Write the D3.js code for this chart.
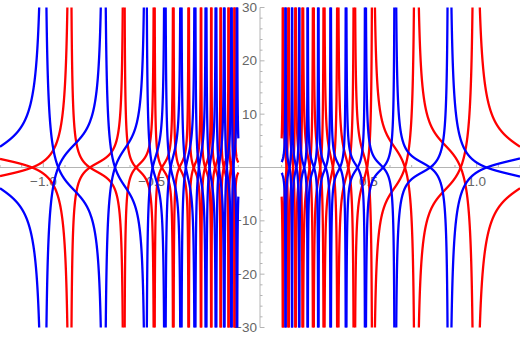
<!DOCTYPE html>
<html>
<head>
<meta charset="utf-8">
<script src="https://cdn.jsdelivr.net/npm/d3@7"></script>
<style>
  body { margin: 0; background: #fff; }
  svg { display: block; }
  text { font-family: "Liberation Sans", Arial, sans-serif; fill: #666; }
</style>
</head>
<body>
<svg width="520" height="337"></svg>
<script>
// asymptotes (poles) and zero crossings.
// the outermost pole of each list lies just outside the plotted x range.
const redPolesLeft = [-1.5, -0.8755, -0.6277, -0.4878, -0.400, -0.329, -0.272, -0.2248, -0.1814, -0.145, -0.1177];
const redZerosLeft = [-1.052, -0.785, -0.572, -0.453, -0.372, -0.306, -0.253, -0.207, -0.167, -0.134];
const redPolesRight = [0.106, 0.1315, 0.164, 0.197, 0.246, 0.295, 0.3586, 0.435, 0.52, 0.7186, 0.992, 1.42];
const redZerosRight = [0.1226, 0.1526, 0.1855, 0.229, 0.278, 0.3365, 0.408, 0.4935, 0.669, 0.926, 1.31];
const bluePolesLeft = [-1.42, -0.997, -0.72, -0.526, -0.4385, -0.3646, -0.300, -0.249, -0.203, -0.1648, -0.1315, -0.106];
const blueZerosLeft = [-1.31, -0.931, -0.669, -0.4955, -0.4126, -0.342, -0.282, -0.233, -0.1896, -0.1531, -0.1226];
const bluePolesRight = [0.118, 0.148, 0.181, 0.220, 0.269, 0.326, 0.397, 0.486, 0.623, 0.871, 1.45];
const blueZerosRight = [0.136, 0.168, 0.204, 0.249, 0.303, 0.369, 0.45, 0.568, 0.785, 1.046];
// strength of the branches next to each asymptote
const redAmp = [2.2, 4.6];   // left, right
const blueAmp = [4.6, 2.2];

const xTicksMajor = [-1.0, -0.5, 0.5, 1.0];
const yTicksMajor = [-30, -20, -10, 10, 20, 30];

const xMax = 1.2, xMin = 0.1;

const svg = d3.select('svg');
const width = +svg.attr('width');

const x = d3.scaleLinear().domain([-1.2, 1.2]).range([0, 520]);
const y = d3.scaleLinear().domain([-30, 30]).range([327.5, 7.5]);

svg.append('clipPath').attr('id', 'clip')
  .append('rect').attr('x', 0).attr('y', y(30)).attr('width', width).attr('height', y(-30) - y(30));

const clampY = v => Math.max(-200, Math.min(200, v));

// between two poles: r/(x-pL) + r/(x-pR) + shift, shifted so it crosses zero where read
function branchSegments(poles, zeros, amp, lo, hi) {
  const segs = [];
  const sample = (f, a, b, pL, pR) => d3.range(0, 701)
    .map(j => a + (b - a) * j / 700)
    .filter(xv => Math.min(Math.abs(xv - pL), Math.abs(pR - xv)) > 1e-6)
    .map(xv => [xv, clampY(f(xv))]);
  for (let i = 0; i < poles.length - 1; i++) {
    const pL = poles[i], pR = poles[i + 1], z = zeros[i];
    const r = amp * (pR - pL) / Math.PI;
    const shift = -(r / (z - pL) + r / (z - pR));
    const f = xv => r / (xv - pL) + r / (xv - pR) + shift;
    const a = Math.max(pL, lo), b = Math.min(pR, hi);
    if (a < b) segs.push(sample(f, a, b, pL, pR));
    // stretch past the innermost pole up to the gap at x = 0
    if (lo > 0 && i === 0 && lo < pL) segs.push(sample(f, lo, pL, pL, pR));
    if (hi < 0 && i === poles.length - 2 && hi > pR) segs.push(sample(f, pR, hi, pL, pR));
  }
  return segs;
}

const line = d3.line().x(d => x(d[0])).y(d => y(d[1]));

// axes
const axisColor = '#b4b4b4';
const gAx = svg.append('g');
gAx.append('line').attr('x1', 0).attr('x2', width).attr('y1', y(0)).attr('y2', y(0))
  .attr('stroke', axisColor).attr('stroke-width', 1);
gAx.append('line').attr('x1', x(0)).attr('x2', x(0)).attr('y1', y(30)).attr('y2', y(-30))
  .attr('stroke', axisColor).attr('stroke-width', 1);

const xMinor = d3.range(-12, 13).map(i => i / 10).filter(v => Math.abs(v) > 1e-9);
gAx.selectAll('.xt').data(xMinor).join('line')
  .attr('x1', d => x(d)).attr('x2', d => x(d))
  .attr('y1', y(0)).attr('y2', d => y(0) - (xTicksMajor.some(t => Math.abs(t - d) < 1e-9) ? 4.5 : 2.5))
  .attr('stroke', axisColor);
const yMinor = d3.range(-30, 31, 2).filter(v => v !== 0);
gAx.selectAll('.yt').data(yMinor).join('line')
  .attr('y1', d => y(d)).attr('y2', d => y(d))
  .attr('x1', x(0)).attr('x2', d => x(0) + (d % 10 === 0 ? 4.5 : 2.5))
  .attr('stroke', axisColor);

gAx.selectAll('.xl').data(xTicksMajor).join('text')
  .attr('x', d => x(d)).attr('y', y(0) + 18)
  .attr('text-anchor', 'middle').attr('font-size', 13.5)
  .text(d => (d < 0 ? '\u2212' : '') + Math.abs(d).toFixed(1));
gAx.selectAll('.yl').data(yTicksMajor).join('text')
  .attr('x', x(0) - 3).attr('y', d => y(d) + 4.5)
  .attr('text-anchor', 'end').attr('font-size', 13.5)
  .text(d => (d < 0 ? '\u2212' : '') + Math.abs(d));

// curves, each drawn with its mirror image -f
const plot = svg.append('g').attr('clip-path', 'url(#clip)');
const branches = [
  {color: '#ff0000', poles: redPolesLeft, zeros: redZerosLeft, amp: redAmp[0], lo: -xMax, hi: -xMin},
  {color: '#ff0000', poles: redPolesRight, zeros: redZerosRight, amp: redAmp[1], lo: xMin, hi: xMax},
  {color: '#0000ff', poles: bluePolesLeft, zeros: blueZerosLeft, amp: blueAmp[0], lo: -xMax, hi: -xMin},
  {color: '#0000ff', poles: bluePolesRight, zeros: blueZerosRight, amp: blueAmp[1], lo: xMin, hi: xMax}
];
branches.forEach(b => {
  const segs = branchSegments(b.poles, b.zeros, b.amp, b.lo, b.hi);
  const all = segs.concat(segs.map(s => s.map(d => [d[0], -d[1]])));
  plot.append('g').selectAll('path').data(all).join('path')
    .attr('d', line).attr('fill', 'none')
    .attr('stroke', b.color).attr('stroke-width', 2.3);
});
</script>
</body>
</html>
